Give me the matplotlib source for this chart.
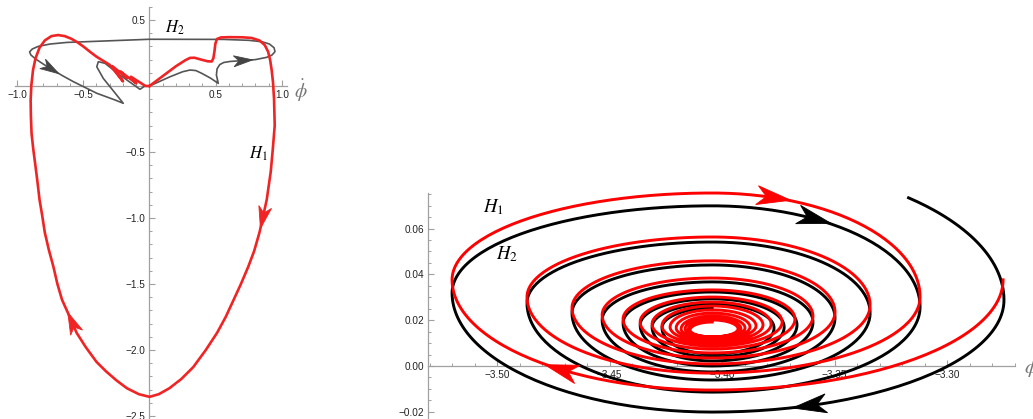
import numpy as np
import matplotlib
matplotlib.use("Agg")
import matplotlib.pyplot as plt
from matplotlib.patches import Polygon
from matplotlib.ticker import MultipleLocator, FixedLocator

plt.rcParams["font.family"] = ["Liberation Sans", "DejaVu Sans"]
plt.rcParams["mathtext.fontset"] = "stix"

W, H = 1033, 419

# ---------------- left panel: the two orbits in the (phi_dot, y) plane
h1_left_x = [0.00, 0.10, 0.20, 0.27, 0.306, 0.34, 0.39, 0.44, 0.47, 0.482, 0.49, 0.497,
             0.509, 0.54, 0.60, 0.70, 0.77, 0.83, 0.87, 0.895, 0.91, 0.922, 0.932,
             0.94, 0.945, 0.93, 0.915, 0.885, 0.857, 0.83, 0.79, 0.745, 0.69, 0.635,
             0.575, 0.51, 0.425, 0.33, 0.24, 0.15, 0.07, 0.00, -0.08, -0.17, -0.25,
             -0.33, -0.40, -0.48, -0.55, -0.58, -0.615, -0.66, -0.695, -0.725, -0.76,
             -0.79, -0.81, -0.83, -0.845, -0.86, -0.877, -0.89, -0.895, -0.897, -0.892,
             -0.879, -0.86, -0.83, -0.79, -0.74, -0.69, -0.64, -0.59, -0.547, -0.50,
             -0.45, -0.40, -0.30, -0.20, -0.28, -0.17, -0.22, -0.10, -0.14, -0.03, 0.00]
h1_left_y = [0.00, 0.075, 0.15, 0.195, 0.213, 0.214, 0.20, 0.187, 0.186, 0.21, 0.26, 0.32,
             0.356, 0.368, 0.37, 0.369, 0.364, 0.345, 0.31, 0.26, 0.20, 0.12, 0.03,
             -0.10, -0.30, -0.485, -0.65, -0.86, -0.99, -1.11, -1.25, -1.37, -1.50, -1.62,
             -1.75, -1.87, -2.00, -2.13, -2.22, -2.29, -2.335, -2.355, -2.335, -2.29, -2.23,
             -2.16, -2.09, -1.98, -1.87, -1.80, -1.72, -1.62, -1.50, -1.37, -1.24,
             -1.11, -0.98, -0.86, -0.73, -0.61, -0.48, -0.36, -0.23, -0.11, 0.00,
             0.121, 0.21, 0.29, 0.345, 0.378, 0.386, 0.378, 0.358, 0.333, 0.30,
             0.26, 0.222, 0.16, 0.035, 0.15, 0.06, 0.11, 0.02, 0.07, 0.00, 0.00]
h2_left_x = [0.0, 0.155, 0.25, 0.306, 0.35, 0.394, 0.46, 0.519, 0.505, 0.51, 0.53, 0.56,
             0.608, 0.70, 0.80, 0.884, 0.925, 0.947, 0.94, 0.905, 0.85, 0.75, 0.557, 0.0,
             -0.625, -0.75, -0.84, -0.885, -0.905, -0.895, -0.86, -0.80, -0.751, -0.66,
             -0.575, -0.398, -0.26, -0.198, -0.248, -0.349, -0.398, -0.386, -0.336,
             -0.223, -0.072, -0.034, 0.0]
h2_left_y = [0.0, 0.07, 0.108, 0.121, 0.117, 0.096, 0.06, 0.02, 0.083, 0.13, 0.162, 0.178,
             0.186, 0.192, 0.20, 0.217, 0.235, 0.26, 0.29, 0.318, 0.335, 0.346, 0.353, 0.354,
             0.33, 0.318, 0.30, 0.28, 0.258, 0.235, 0.205, 0.165, 0.134, 0.08,
             0.033, -0.055, -0.106, -0.131, -0.068, 0.058, 0.146, 0.184, 0.172,
             0.083, -0.025, 0.0, 0.0]

# ---------------- right panel: extreme points of every turn of the spirals
center_x = -3.4044
# H1 (red)
h1_right_x = [-3.2751, -3.3120, -3.3342, -3.3498, -3.3596, -3.3676, -3.3733, -3.3782,
              -3.3818, -3.3849, -3.3876, -3.3898, -3.3916, -3.3929]
h1_right_y = [0.0376, 0.0301, 0.0266, 0.0236, 0.0218, 0.0205, 0.0192, 0.0183,
              0.0179, 0.0175, 0.0170, 0.0166, 0.0162, 0.0162]
h1_bottom_y = [-0.0105, -0.0031, 0.0009, 0.0035, 0.0057, 0.0074, 0.0087, 0.0096,
               0.0105, 0.0114, 0.0118, 0.0122, 0.0127, 0.0127]
h1_left_xx = [-3.5200, -3.4867, -3.4667, -3.4533, -3.4440, -3.4364, -3.4311, -3.4267,
              -3.4231, -3.4204, -3.4182, -3.4164, -3.4151, -3.4142]
h1_left_yy = [0.0376, 0.0301, 0.0253, 0.0223, 0.0205, 0.0192, 0.0183, 0.0175,
              0.0170, 0.0166, 0.0162, 0.0162, 0.0157, 0.0157]
h1_top_y = [0.0755, 0.0563, 0.0459, 0.0384, 0.0332, 0.0301, 0.0279, 0.0262,
            0.0245, 0.0231, 0.0218, 0.0210, 0.0201, 0.0192]
# H2 (black)
h2_top0 = 0.0891
h2_right_x = [-3.2747, -3.3120, -3.3342, -3.3498, -3.3596, -3.3667, -3.3724, -3.3769]
h2_right_y = [0.0288, 0.0258, 0.0231, 0.0210, 0.0192, 0.0179, 0.0170, 0.0166]
h2_bottom_y = [-0.0201, -0.0114, -0.0061, -0.0026, 0.0, 0.0022, 0.0039, 0.0052]
h2_left_xx = [-3.5200, -3.4867, -3.4667, -3.4533, -3.4440, -3.4364, -3.4311, -3.4267]
h2_left_yy = [0.0319, 0.0275, 0.0231, 0.0201, 0.0188, 0.0179, 0.0170, 0.0166]
h2_top_y = [0.0699, 0.0541, 0.0441, 0.0367, 0.0323, 0.0293, 0.0271, 0.0253]

N = 60


def spiral(cx, rx, ry, by, lx, ly, ty, top0=None, start=0.0):
    pts = []
    if top0 is not None:
        pts.append((cx, top0, "T"))
    for k in range(len(rx)):
        pts += [(rx[k], ry[k], "R"), (cx, by[k], "B"), (lx[k], ly[k], "L"), (cx, ty[k], "T")]
    xs, ys = [], []
    for i in range(len(pts) - 1):
        p, q = pts[i], pts[i + 1]
        t0 = start * np.pi / 2 if i == 0 else 0.0
        t = np.linspace(t0, np.pi / 2, N)
        if p[2] in "RL":
            x = q[0] + (p[0] - q[0]) * np.cos(t)
            y = p[1] + (q[1] - p[1]) * np.sin(t)
        else:
            x = p[0] + (q[0] - p[0]) * np.sin(t)
            y = q[1] + (p[1] - q[1]) * np.cos(t)
        xs.append(x)
        ys.append(y)
    return np.concatenate(xs), np.concatenate(ys)


def arrowhead(ax, x, y, i, length, width, color, notch=0.28):
    tr = ax.transData
    p = tr.transform((x[i], y[i]))
    a = tr.transform((x[i - 1], y[i - 1]))
    b = tr.transform((x[i + 1], y[i + 1]))
    d = (b - a) / np.hypot(*(b - a))
    nrm = np.array([-d[1], d[0]])
    tip = p + d * length * 0.55
    back = p - d * length * 0.45
    poly = np.array([tip, back + nrm * width / 2, back + d * length * notch,
                     back - nrm * width / 2])
    poly = tr.inverted().transform(poly)
    ax.add_patch(Polygon(poly, closed=True, fc=color, ec=color, lw=0.6,
                         zorder=6, clip_on=False))


def px_axes(fig, x0, x1, y0, y1):
    return fig.add_axes([x0 / W, 1 - y1 / H, (x1 - x0) / W, (y1 - y0) / H])


def style_axes(ax):
    for s in ["top", "right"]:
        ax.spines[s].set_visible(False)
    for s in ["left", "bottom"]:
        ax.spines[s].set_color("#a0a0a0")
        ax.spines[s].set_linewidth(0.9)
        ax.spines[s].set_zorder(1)
    ax.tick_params(which="major", direction="in", length=4, width=0.8, color="#a0a0a0",
                   labelsize=7.2, labelcolor="#222222", pad=3)
    ax.tick_params(which="minor", direction="in", length=2.3, width=0.7, color="#a0a0a0")
    ax.patch.set_visible(False)


def fmt(digits):
    return plt.FuncFormatter(lambda v, p: f"{v:.{digits}f}".replace("-", "\u2212"))


fig = plt.figure(figsize=(W / 100, H / 100), dpi=100)

# ---------------- left panel
axl = px_axes(fig, 15.0, 287.3, 6.8, 423.9)
axl.set_xlim(-1.015, 1.04)
axl.set_ylim(-2.56, 0.6)
style_axes(axl)
axl.spines["left"].set_position(("data", 0))
axl.spines["bottom"].set_position(("data", 0))
axl.xaxis.set_major_locator(FixedLocator([-1.0, -0.5, 0.5, 1.0]))
axl.xaxis.set_major_formatter(fmt(1))
axl.xaxis.set_minor_locator(MultipleLocator(0.1))
axl.yaxis.set_major_locator(FixedLocator([0.5, -0.5, -1.0, -1.5, -2.0, -2.5]))
axl.yaxis.set_major_formatter(fmt(1))
axl.yaxis.set_minor_locator(MultipleLocator(0.1))

axl.plot(h2_left_x, h2_left_y, color="#555555", lw=1.2, zorder=3, clip_on=False,
         solid_joinstyle="round")
axl.plot(h1_left_x, h1_left_y, color="#f02424", lw=1.9, zorder=4, clip_on=False,
         solid_joinstyle="round")
arrowhead(axl, h2_left_x, h2_left_y, 13, 19, 11, "#444444")
arrowhead(axl, h2_left_x, h2_left_y, 32, 19, 11, "#444444")
arrowhead(axl, h1_left_x, h1_left_y, 28, 22, 13, "#f02424")
arrowhead(axl, h1_left_x, h1_left_y, 49, 22, 13, "#f02424")
axl.text(0.19, 0.44, r"$H_2$", fontsize=12, ha="center", va="center")
axl.text(0.82, -0.51, r"$H_1$", fontsize=12, ha="center", va="center")
axl.text(1.14, -0.04, r"$\dot{\phi}$", fontsize=14, color="#777777", ha="center", va="center")

# ---------------- right panel
axr = px_axes(fig, 428, 1015, 193, 421)
axr.set_xlim(-3.5307, -3.2698)
axr.set_ylim(-0.024, 0.0755)
style_axes(axr)
axr.spines["bottom"].set_position(("data", 0))
axr.xaxis.set_major_locator(FixedLocator([-3.50, -3.45, -3.40, -3.35, -3.30]))
axr.xaxis.set_major_formatter(fmt(2))
axr.xaxis.set_minor_locator(MultipleLocator(0.01))
axr.yaxis.set_major_locator(FixedLocator([-0.02, 0.0, 0.02, 0.04, 0.06]))
axr.yaxis.set_major_formatter(fmt(2))
axr.yaxis.set_minor_locator(MultipleLocator(0.005))

bx, by = spiral(center_x, h2_right_x, h2_right_y, h2_bottom_y, h2_left_xx, h2_left_yy,
                h2_top_y, top0=h2_top0, start=0.47)
rx, ry = spiral(center_x, h1_right_x, h1_right_y, h1_bottom_y, h1_left_xx, h1_left_yy,
                h1_top_y)
axr.plot(bx, by, color="black", lw=2.1, zorder=3, clip_on=False)
axr.plot(rx, ry, color="#ff0000", lw=2.1, zorder=4, clip_on=False)

arrowhead(axr, bx, by, 4 * N + int(0.33 * (N - 1)), 34, 19, "black")
arrowhead(axr, bx, by, 1 * N + int(0.786 * (N - 1)), 34, 19, "black")
arrowhead(axr, rx, ry, 3 * N + int(0.19 * (N - 1)), 34, 19, "#ff0000")
arrowhead(axr, rx, ry, 1 * N + int(0.40 * (N - 1)), 34, 19, "#ff0000")

axr.text(-3.5018, 0.0694, r"$H_1$", fontsize=13.5, ha="center", va="center")
axr.text(-3.4956, 0.0489, r"$H_2$", fontsize=13.5, ha="center", va="center")
axr.text(-3.2625, -0.001, r"$\phi$", fontsize=15, color="#777777", ha="center",
         va="center", clip_on=False)

fig.savefig("out.png", dpi=100)
